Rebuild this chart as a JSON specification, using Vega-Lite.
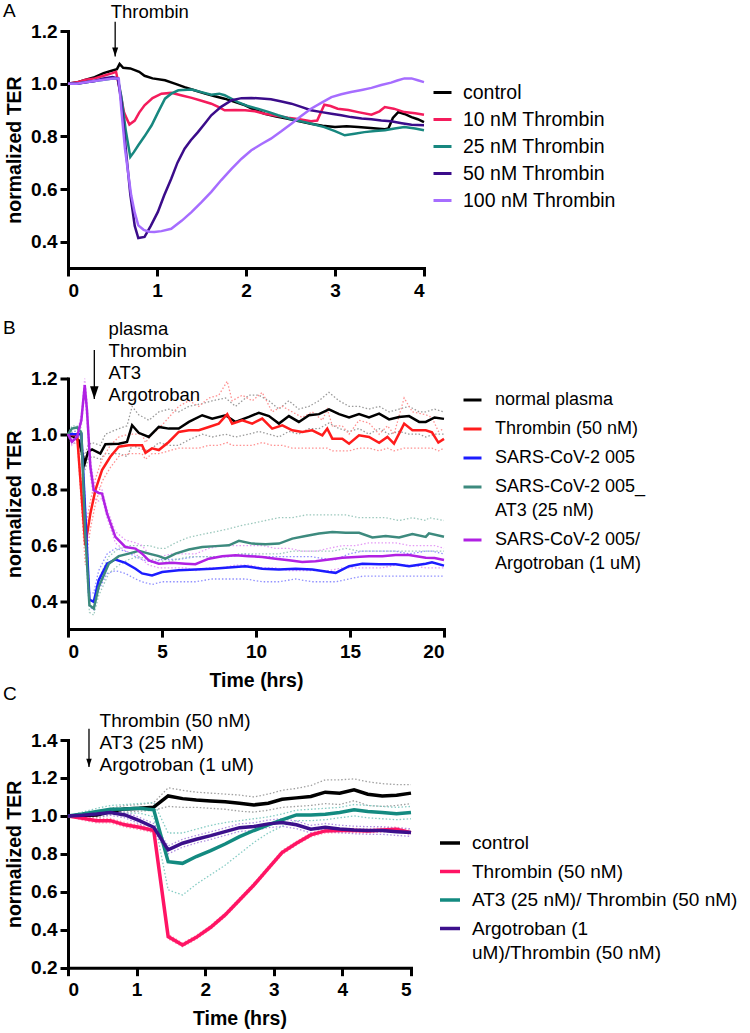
{
"$schema": "https://vega.github.io/schema/vega-lite/v6.json",
"padding": {"left": 3, "top": 2, "right": 0, "bottom": 0},
"background": "white",
"config": {
  "font": "Liberation Sans",
  "view": {"stroke": null},
  "axis": {"grid": false, "domainColor": "#000", "domainWidth": 3, "domainCap": "square", "tickColor": "#000", "tickWidth": 3, "tickSize": 8, "labelFont": "Liberation Sans", "labelFontSize": 19, "labelFontWeight": "bold", "labelColor": "#000", "labelPadding": 3, "labelOverlap": false, "labelLineHeight": 19, "titleFont": "Liberation Sans", "titleFontSize": 19.5, "titleFontWeight": "bold", "titleColor": "#000"},
  "axisX": {"labelPadding": 5, "titlePadding": 10},
  "axisY": {"titlePadding": 6},
  "legend": {"labelFont": "Liberation Sans", "labelColor": "#000", "symbolType": "stroke", "symbolStrokeWidth": 3, "labelLimit": 400, "symbolOpacity": 1},
  "title": {"font": "Liberation Sans", "fontWeight": "normal", "fontSize": 19, "color": "#000", "anchor": "start", "frame": "group"},
  "style": {"guide-label": {"lineHeight": 24}}
},
"spacing": 110.5,
"bounds": "flush",
"resolve": {"scale": {"color": "independent", "x": "independent", "y": "independent"}, "legend": {"color": "independent"}},
"datasets": {
  "A": [
    {"series":"control","t":0,"v":1.0},{"series":"control","t":0.1,"v":1.005},{"series":"control","t":0.2,"v":1.015},{"series":"control","t":0.3,"v":1.025},{"series":"control","t":0.4,"v":1.04},{"series":"control","t":0.5,"v":1.05},{"series":"control","t":0.55,"v":1.055},{"series":"control","t":0.58,"v":1.075},{"series":"control","t":0.62,"v":1.06},{"series":"control","t":0.7,"v":1.058},{"series":"control","t":0.8,"v":1.045},{"series":"control","t":0.86,"v":1.03},{"series":"control","t":0.95,"v":1.02},{"series":"control","t":1.09,"v":1.013},{"series":"control","t":1.2,"v":1.0},{"series":"control","t":1.31,"v":0.987},{"series":"control","t":1.42,"v":0.975},{"series":"control","t":1.54,"v":0.962},{"series":"control","t":1.65,"v":0.952},{"series":"control","t":1.76,"v":0.943},{"series":"control","t":1.88,"v":0.93},{"series":"control","t":1.99,"v":0.918},{"series":"control","t":2.1,"v":0.9},{"series":"control","t":2.21,"v":0.886},{"series":"control","t":2.34,"v":0.875},{"series":"control","t":2.47,"v":0.867},{"series":"control","t":2.6,"v":0.857},{"series":"control","t":2.73,"v":0.848},{"series":"control","t":2.86,"v":0.84},{"series":"control","t":3.0,"v":0.835},{"series":"control","t":3.13,"v":0.838},{"series":"control","t":3.26,"v":0.835},{"series":"control","t":3.4,"v":0.832},{"series":"control","t":3.56,"v":0.827},{"series":"control","t":3.6,"v":0.83},{"series":"control","t":3.65,"v":0.87},{"series":"control","t":3.71,"v":0.892},{"series":"control","t":3.78,"v":0.885},{"series":"control","t":3.86,"v":0.873},{"series":"control","t":3.93,"v":0.865},{"series":"control","t":4.0,"v":0.854},
    {"series":"10 nM Thrombin","t":0,"v":1.0},{"series":"10 nM Thrombin","t":0.1,"v":1.005},{"series":"10 nM Thrombin","t":0.2,"v":1.015},{"series":"10 nM Thrombin","t":0.3,"v":1.02},{"series":"10 nM Thrombin","t":0.4,"v":1.03},{"series":"10 nM Thrombin","t":0.5,"v":1.04},{"series":"10 nM Thrombin","t":0.54,"v":1.045},{"series":"10 nM Thrombin","t":0.58,"v":0.98},{"series":"10 nM Thrombin","t":0.63,"v":0.89},{"series":"10 nM Thrombin","t":0.69,"v":0.845},{"series":"10 nM Thrombin","t":0.75,"v":0.86},{"series":"10 nM Thrombin","t":0.8,"v":0.89},{"series":"10 nM Thrombin","t":0.86,"v":0.918},{"series":"10 nM Thrombin","t":0.95,"v":0.945},{"series":"10 nM Thrombin","t":1.05,"v":0.962},{"series":"10 nM Thrombin","t":1.16,"v":0.965},{"series":"10 nM Thrombin","t":1.28,"v":0.955},{"series":"10 nM Thrombin","t":1.39,"v":0.946},{"series":"10 nM Thrombin","t":1.5,"v":0.935},{"series":"10 nM Thrombin","t":1.61,"v":0.924},{"series":"10 nM Thrombin","t":1.7,"v":0.91},{"series":"10 nM Thrombin","t":1.76,"v":0.899},{"series":"10 nM Thrombin","t":1.88,"v":0.9},{"series":"10 nM Thrombin","t":1.99,"v":0.899},{"series":"10 nM Thrombin","t":2.1,"v":0.895},{"series":"10 nM Thrombin","t":2.21,"v":0.886},{"series":"10 nM Thrombin","t":2.34,"v":0.878},{"series":"10 nM Thrombin","t":2.47,"v":0.871},{"series":"10 nM Thrombin","t":2.6,"v":0.865},{"series":"10 nM Thrombin","t":2.73,"v":0.857},{"series":"10 nM Thrombin","t":2.8,"v":0.86},{"series":"10 nM Thrombin","t":2.88,"v":0.92},{"series":"10 nM Thrombin","t":2.95,"v":0.915},{"series":"10 nM Thrombin","t":3.03,"v":0.905},{"series":"10 nM Thrombin","t":3.15,"v":0.9},{"series":"10 nM Thrombin","t":3.26,"v":0.892},{"series":"10 nM Thrombin","t":3.41,"v":0.882},{"series":"10 nM Thrombin","t":3.5,"v":0.895},{"series":"10 nM Thrombin","t":3.56,"v":0.911},{"series":"10 nM Thrombin","t":3.66,"v":0.905},{"series":"10 nM Thrombin","t":3.78,"v":0.892},{"series":"10 nM Thrombin","t":3.9,"v":0.888},{"series":"10 nM Thrombin","t":4.0,"v":0.882},
    {"series":"25 nM Thrombin","t":0,"v":1.0},{"series":"25 nM Thrombin","t":0.1,"v":1.0},{"series":"25 nM Thrombin","t":0.2,"v":1.005},{"series":"25 nM Thrombin","t":0.3,"v":1.01},{"series":"25 nM Thrombin","t":0.4,"v":1.015},{"series":"25 nM Thrombin","t":0.5,"v":1.02},{"series":"25 nM Thrombin","t":0.56,"v":1.02},{"series":"25 nM Thrombin","t":0.6,"v":0.95},{"series":"25 nM Thrombin","t":0.65,"v":0.82},{"series":"25 nM Thrombin","t":0.7,"v":0.722},{"series":"25 nM Thrombin","t":0.74,"v":0.74},{"series":"25 nM Thrombin","t":0.79,"v":0.766},{"series":"25 nM Thrombin","t":0.86,"v":0.8},{"series":"25 nM Thrombin","t":0.94,"v":0.842},{"series":"25 nM Thrombin","t":1.01,"v":0.89},{"series":"25 nM Thrombin","t":1.09,"v":0.943},{"series":"25 nM Thrombin","t":1.16,"v":0.962},{"series":"25 nM Thrombin","t":1.24,"v":0.975},{"series":"25 nM Thrombin","t":1.39,"v":0.978},{"series":"25 nM Thrombin","t":1.5,"v":0.968},{"series":"25 nM Thrombin","t":1.61,"v":0.958},{"series":"25 nM Thrombin","t":1.7,"v":0.962},{"series":"25 nM Thrombin","t":1.76,"v":0.956},{"series":"25 nM Thrombin","t":1.85,"v":0.94},{"series":"25 nM Thrombin","t":1.91,"v":0.93},{"series":"25 nM Thrombin","t":2.02,"v":0.915},{"series":"25 nM Thrombin","t":2.13,"v":0.905},{"series":"25 nM Thrombin","t":2.25,"v":0.893},{"series":"25 nM Thrombin","t":2.36,"v":0.88},{"series":"25 nM Thrombin","t":2.5,"v":0.866},{"series":"25 nM Thrombin","t":2.66,"v":0.854},{"series":"25 nM Thrombin","t":2.77,"v":0.845},{"series":"25 nM Thrombin","t":2.88,"v":0.835},{"series":"25 nM Thrombin","t":3.0,"v":0.82},{"series":"25 nM Thrombin","t":3.11,"v":0.804},{"series":"25 nM Thrombin","t":3.22,"v":0.81},{"series":"25 nM Thrombin","t":3.33,"v":0.816},{"series":"25 nM Thrombin","t":3.45,"v":0.82},{"series":"25 nM Thrombin","t":3.56,"v":0.823},{"series":"25 nM Thrombin","t":3.67,"v":0.83},{"series":"25 nM Thrombin","t":3.78,"v":0.835},{"series":"25 nM Thrombin","t":3.9,"v":0.83},{"series":"25 nM Thrombin","t":4.0,"v":0.823},
    {"series":"50 nM Thrombin","t":0,"v":1.0},{"series":"50 nM Thrombin","t":0.1,"v":1.0},{"series":"50 nM Thrombin","t":0.2,"v":1.005},{"series":"50 nM Thrombin","t":0.3,"v":1.01},{"series":"50 nM Thrombin","t":0.4,"v":1.02},{"series":"50 nM Thrombin","t":0.5,"v":1.025},{"series":"50 nM Thrombin","t":0.56,"v":1.02},{"series":"50 nM Thrombin","t":0.6,"v":0.93},{"series":"50 nM Thrombin","t":0.65,"v":0.75},{"series":"50 nM Thrombin","t":0.7,"v":0.58},{"series":"50 nM Thrombin","t":0.75,"v":0.46},{"series":"50 nM Thrombin","t":0.79,"v":0.414},{"series":"50 nM Thrombin","t":0.86,"v":0.418},{"series":"50 nM Thrombin","t":0.93,"v":0.46},{"series":"50 nM Thrombin","t":1.01,"v":0.513},{"series":"50 nM Thrombin","t":1.08,"v":0.575},{"series":"50 nM Thrombin","t":1.16,"v":0.639},{"series":"50 nM Thrombin","t":1.23,"v":0.7},{"series":"50 nM Thrombin","t":1.31,"v":0.753},{"series":"50 nM Thrombin","t":1.38,"v":0.785},{"series":"50 nM Thrombin","t":1.46,"v":0.816},{"series":"50 nM Thrombin","t":1.54,"v":0.85},{"series":"50 nM Thrombin","t":1.61,"v":0.88},{"series":"50 nM Thrombin","t":1.72,"v":0.912},{"series":"50 nM Thrombin","t":1.84,"v":0.937},{"series":"50 nM Thrombin","t":1.95,"v":0.945},{"series":"50 nM Thrombin","t":2.06,"v":0.946},{"series":"50 nM Thrombin","t":2.17,"v":0.944},{"series":"50 nM Thrombin","t":2.28,"v":0.941},{"series":"50 nM Thrombin","t":2.4,"v":0.932},{"series":"50 nM Thrombin","t":2.51,"v":0.924},{"series":"50 nM Thrombin","t":2.62,"v":0.912},{"series":"50 nM Thrombin","t":2.73,"v":0.899},{"series":"50 nM Thrombin","t":2.85,"v":0.892},{"series":"50 nM Thrombin","t":2.96,"v":0.886},{"series":"50 nM Thrombin","t":3.07,"v":0.88},{"series":"50 nM Thrombin","t":3.18,"v":0.873},{"series":"50 nM Thrombin","t":3.3,"v":0.868},{"series":"50 nM Thrombin","t":3.41,"v":0.865},{"series":"50 nM Thrombin","t":3.52,"v":0.86},{"series":"50 nM Thrombin","t":3.63,"v":0.857},{"series":"50 nM Thrombin","t":3.75,"v":0.85},{"series":"50 nM Thrombin","t":3.86,"v":0.844},{"series":"50 nM Thrombin","t":4.0,"v":0.842},
    {"series":"100 nM Thrombin","t":0,"v":1.0},{"series":"100 nM Thrombin","t":0.1,"v":1.0},{"series":"100 nM Thrombin","t":0.2,"v":1.005},{"series":"100 nM Thrombin","t":0.3,"v":1.01},{"series":"100 nM Thrombin","t":0.4,"v":1.015},{"series":"100 nM Thrombin","t":0.5,"v":1.02},{"series":"100 nM Thrombin","t":0.57,"v":1.02},{"series":"100 nM Thrombin","t":0.6,"v":0.9},{"series":"100 nM Thrombin","t":0.64,"v":0.753},{"series":"100 nM Thrombin","t":0.68,"v":0.65},{"series":"100 nM Thrombin","t":0.71,"v":0.576},{"series":"100 nM Thrombin","t":0.75,"v":0.51},{"series":"100 nM Thrombin","t":0.79,"v":0.462},{"series":"100 nM Thrombin","t":0.85,"v":0.445},{"series":"100 nM Thrombin","t":0.91,"v":0.438},{"series":"100 nM Thrombin","t":0.97,"v":0.437},{"series":"100 nM Thrombin","t":1.05,"v":0.44},{"series":"100 nM Thrombin","t":1.16,"v":0.449},{"series":"100 nM Thrombin","t":1.28,"v":0.48},{"series":"100 nM Thrombin","t":1.39,"v":0.513},{"series":"100 nM Thrombin","t":1.5,"v":0.55},{"series":"100 nM Thrombin","t":1.61,"v":0.589},{"series":"100 nM Thrombin","t":1.72,"v":0.633},{"series":"100 nM Thrombin","t":1.84,"v":0.677},{"series":"100 nM Thrombin","t":1.95,"v":0.715},{"series":"100 nM Thrombin","t":2.06,"v":0.747},{"series":"100 nM Thrombin","t":2.17,"v":0.77},{"series":"100 nM Thrombin","t":2.28,"v":0.791},{"series":"100 nM Thrombin","t":2.4,"v":0.82},{"series":"100 nM Thrombin","t":2.51,"v":0.848},{"series":"100 nM Thrombin","t":2.62,"v":0.877},{"series":"100 nM Thrombin","t":2.73,"v":0.905},{"series":"100 nM Thrombin","t":2.85,"v":0.928},{"series":"100 nM Thrombin","t":2.96,"v":0.949},{"series":"100 nM Thrombin","t":3.07,"v":0.96},{"series":"100 nM Thrombin","t":3.18,"v":0.968},{"series":"100 nM Thrombin","t":3.3,"v":0.976},{"series":"100 nM Thrombin","t":3.41,"v":0.984},{"series":"100 nM Thrombin","t":3.52,"v":0.995},{"series":"100 nM Thrombin","t":3.63,"v":1.004},{"series":"100 nM Thrombin","t":3.7,"v":1.012},{"series":"100 nM Thrombin","t":3.78,"v":1.02},{"series":"100 nM Thrombin","t":3.86,"v":1.02},{"series":"100 nM Thrombin","t":3.93,"v":1.013},{"series":"100 nM Thrombin","t":4.0,"v":1.006}
  ],
  "B": [
    {"series":"normal plasma","t":0,"v":1.0,"lo":1.0,"hi":1.0},{"series":"normal plasma","t":0.3,"v":0.99,"lo":0.97,"hi":1.0},{"series":"normal plasma","t":0.57,"v":0.978,"lo":0.96,"hi":0.99},{"series":"normal plasma","t":0.89,"v":0.895,"lo":0.87,"hi":0.92},{"series":"normal plasma","t":1.07,"v":0.937,"lo":0.91,"hi":0.96},{"series":"normal plasma","t":1.28,"v":0.945,"lo":0.92,"hi":0.97},{"series":"normal plasma","t":1.72,"v":0.93,"lo":0.91,"hi":0.96},{"series":"normal plasma","t":1.99,"v":0.964,"lo":0.93,"hi":1.0},{"series":"normal plasma","t":2.7,"v":0.966,"lo":0.93,"hi":1.02},{"series":"normal plasma","t":3.14,"v":0.972,"lo":0.92,"hi":1.03},{"series":"normal plasma","t":3.41,"v":1.032,"lo":0.96,"hi":1.1},{"series":"normal plasma","t":3.76,"v":1.005,"lo":0.95,"hi":1.07},{"series":"normal plasma","t":4.3,"v":0.99,"lo":0.94,"hi":1.05},{"series":"normal plasma","t":4.83,"v":1.026,"lo":0.97,"hi":1.08},{"series":"normal plasma","t":5.36,"v":1.02,"lo":0.96,"hi":1.09},{"series":"normal plasma","t":5.89,"v":1.02,"lo":0.96,"hi":1.08},{"series":"normal plasma","t":6.43,"v":1.044,"lo":0.98,"hi":1.1},{"series":"normal plasma","t":7.14,"v":1.068,"lo":1.0,"hi":1.11},{"series":"normal plasma","t":7.67,"v":1.056,"lo":0.99,"hi":1.12},{"series":"normal plasma","t":8.38,"v":1.068,"lo":1.0,"hi":1.13},{"series":"normal plasma","t":8.91,"v":1.044,"lo":0.99,"hi":1.1},{"series":"normal plasma","t":9.62,"v":1.062,"lo":1.0,"hi":1.14},{"series":"normal plasma","t":10.15,"v":1.077,"lo":1.01,"hi":1.14},{"series":"normal plasma","t":10.69,"v":1.065,"lo":1.0,"hi":1.12},{"series":"normal plasma","t":11.22,"v":1.038,"lo":0.99,"hi":1.09},{"series":"normal plasma","t":11.75,"v":1.065,"lo":1.01,"hi":1.12},{"series":"normal plasma","t":12.28,"v":1.044,"lo":1.0,"hi":1.09},{"series":"normal plasma","t":12.82,"v":1.068,"lo":1.02,"hi":1.1},{"series":"normal plasma","t":13.35,"v":1.072,"lo":1.02,"hi":1.12},{"series":"normal plasma","t":13.88,"v":1.089,"lo":1.04,"hi":1.15},{"series":"normal plasma","t":14.42,"v":1.072,"lo":1.02,"hi":1.12},{"series":"normal plasma","t":14.95,"v":1.06,"lo":1.01,"hi":1.1},{"series":"normal plasma","t":15.48,"v":1.072,"lo":1.02,"hi":1.1},{"series":"normal plasma","t":16.01,"v":1.06,"lo":1.0,"hi":1.09},{"series":"normal plasma","t":16.55,"v":1.074,"lo":1.02,"hi":1.1},{"series":"normal plasma","t":17.08,"v":1.053,"lo":1.0,"hi":1.08},{"series":"normal plasma","t":17.61,"v":1.062,"lo":1.01,"hi":1.09},{"series":"normal plasma","t":18.14,"v":1.065,"lo":1.0,"hi":1.1},{"series":"normal plasma","t":18.68,"v":1.044,"lo":1.0,"hi":1.08},{"series":"normal plasma","t":19.03,"v":1.044,"lo":0.99,"hi":1.08},{"series":"normal plasma","t":19.5,"v":1.06,"lo":1.0,"hi":1.09},{"series":"normal plasma","t":20.0,"v":1.055,"lo":1.0,"hi":1.08},
    {"series":"Thrombin (50 nM)","t":0,"v":1.0,"lo":1.0,"hi":1.0},{"series":"Thrombin (50 nM)","t":0.3,"v":0.996,"lo":0.98,"hi":1.01},{"series":"Thrombin (50 nM)","t":0.48,"v":1.0,"lo":0.99,"hi":1.01},{"series":"Thrombin (50 nM)","t":0.92,"v":0.601,"lo":0.53,"hi":0.66},{"series":"Thrombin (50 nM)","t":1.19,"v":0.715,"lo":0.66,"hi":0.76},{"series":"Thrombin (50 nM)","t":1.46,"v":0.8,"lo":0.75,"hi":0.84},{"series":"Thrombin (50 nM)","t":1.81,"v":0.871,"lo":0.83,"hi":0.91},{"series":"Thrombin (50 nM)","t":2.25,"v":0.919,"lo":0.88,"hi":0.96},{"series":"Thrombin (50 nM)","t":2.7,"v":0.955,"lo":0.92,"hi":0.99},{"series":"Thrombin (50 nM)","t":3.23,"v":0.96,"lo":0.93,"hi":1.0},{"series":"Thrombin (50 nM)","t":3.94,"v":0.96,"lo":0.93,"hi":1.0},{"series":"Thrombin (50 nM)","t":4.12,"v":0.933,"lo":0.91,"hi":0.97},{"series":"Thrombin (50 nM)","t":4.47,"v":0.949,"lo":0.93,"hi":1.0},{"series":"Thrombin (50 nM)","t":4.83,"v":0.943,"lo":0.93,"hi":1.02},{"series":"Thrombin (50 nM)","t":5.36,"v":0.972,"lo":0.94,"hi":1.06},{"series":"Thrombin (50 nM)","t":5.89,"v":1.008,"lo":0.95,"hi":1.1},{"series":"Thrombin (50 nM)","t":6.43,"v":1.014,"lo":0.95,"hi":1.12},{"series":"Thrombin (50 nM)","t":6.96,"v":1.014,"lo":0.95,"hi":1.1},{"series":"Thrombin (50 nM)","t":7.49,"v":1.026,"lo":0.96,"hi":1.13},{"series":"Thrombin (50 nM)","t":8.02,"v":1.038,"lo":0.96,"hi":1.14},{"series":"Thrombin (50 nM)","t":8.47,"v":1.072,"lo":0.97,"hi":1.19},{"series":"Thrombin (50 nM)","t":8.73,"v":1.038,"lo":0.96,"hi":1.12},{"series":"Thrombin (50 nM)","t":9.27,"v":1.05,"lo":0.96,"hi":1.14},{"series":"Thrombin (50 nM)","t":9.8,"v":1.038,"lo":0.96,"hi":1.12},{"series":"Thrombin (50 nM)","t":10.33,"v":1.056,"lo":0.97,"hi":1.15},{"series":"Thrombin (50 nM)","t":10.86,"v":1.02,"lo":0.96,"hi":1.08},{"series":"Thrombin (50 nM)","t":11.4,"v":1.032,"lo":0.96,"hi":1.1},{"series":"Thrombin (50 nM)","t":11.93,"v":1.014,"lo":0.95,"hi":1.08},{"series":"Thrombin (50 nM)","t":12.46,"v":1.008,"lo":0.95,"hi":1.06},{"series":"Thrombin (50 nM)","t":12.99,"v":1.014,"lo":0.95,"hi":1.08},{"series":"Thrombin (50 nM)","t":13.53,"v":0.996,"lo":0.95,"hi":1.05},{"series":"Thrombin (50 nM)","t":13.79,"v":1.02,"lo":0.95,"hi":1.09},{"series":"Thrombin (50 nM)","t":14.06,"v":0.984,"lo":0.94,"hi":1.03},{"series":"Thrombin (50 nM)","t":14.59,"v":0.984,"lo":0.94,"hi":1.03},{"series":"Thrombin (50 nM)","t":14.95,"v":0.966,"lo":0.94,"hi":1.0},{"series":"Thrombin (50 nM)","t":15.48,"v":0.996,"lo":0.95,"hi":1.05},{"series":"Thrombin (50 nM)","t":16.01,"v":0.99,"lo":0.95,"hi":1.04},{"series":"Thrombin (50 nM)","t":16.55,"v":0.969,"lo":0.94,"hi":1.0},{"series":"Thrombin (50 nM)","t":16.99,"v":0.99,"lo":0.95,"hi":1.03},{"series":"Thrombin (50 nM)","t":17.34,"v":0.966,"lo":0.94,"hi":1.0},{"series":"Thrombin (50 nM)","t":17.88,"v":1.038,"lo":0.95,"hi":1.13},{"series":"Thrombin (50 nM)","t":18.32,"v":1.014,"lo":0.95,"hi":1.08},{"series":"Thrombin (50 nM)","t":19.03,"v":1.014,"lo":0.95,"hi":1.07},{"series":"Thrombin (50 nM)","t":19.36,"v":1.007,"lo":0.95,"hi":1.06},{"series":"Thrombin (50 nM)","t":19.7,"v":0.97,"lo":0.94,"hi":1.01},{"series":"Thrombin (50 nM)","t":20.0,"v":0.983,"lo":0.95,"hi":1.02},
    {"series":"SARS-CoV-2 005","t":0,"v":1.0,"lo":1.0,"hi":1.0},{"series":"SARS-CoV-2 005","t":0.39,"v":1.0,"lo":0.99,"hi":1.01},{"series":"SARS-CoV-2 005","t":0.71,"v":1.0,"lo":0.99,"hi":1.01},{"series":"SARS-CoV-2 005","t":0.92,"v":0.715,"lo":0.68,"hi":0.75},{"series":"SARS-CoV-2 005","t":1.14,"v":0.406,"lo":0.38,"hi":0.43},{"series":"SARS-CoV-2 005","t":1.37,"v":0.398,"lo":0.37,"hi":0.43},{"series":"SARS-CoV-2 005","t":1.63,"v":0.475,"lo":0.44,"hi":0.51},{"series":"SARS-CoV-2 005","t":2.08,"v":0.535,"lo":0.5,"hi":0.57},{"series":"SARS-CoV-2 005","t":2.52,"v":0.55,"lo":0.51,"hi":0.59},{"series":"SARS-CoV-2 005","t":3.05,"v":0.538,"lo":0.5,"hi":0.58},{"series":"SARS-CoV-2 005","t":3.59,"v":0.517,"lo":0.48,"hi":0.56},{"series":"SARS-CoV-2 005","t":3.94,"v":0.5,"lo":0.47,"hi":0.55},{"series":"SARS-CoV-2 005","t":4.47,"v":0.493,"lo":0.46,"hi":0.54},{"series":"SARS-CoV-2 005","t":5.01,"v":0.505,"lo":0.47,"hi":0.55},{"series":"SARS-CoV-2 005","t":5.89,"v":0.511,"lo":0.47,"hi":0.55},{"series":"SARS-CoV-2 005","t":6.78,"v":0.514,"lo":0.47,"hi":0.56},{"series":"SARS-CoV-2 005","t":7.67,"v":0.517,"lo":0.48,"hi":0.56},{"series":"SARS-CoV-2 005","t":8.56,"v":0.521,"lo":0.48,"hi":0.56},{"series":"SARS-CoV-2 005","t":9.44,"v":0.526,"lo":0.48,"hi":0.57},{"series":"SARS-CoV-2 005","t":10.33,"v":0.517,"lo":0.47,"hi":0.56},{"series":"SARS-CoV-2 005","t":11.22,"v":0.514,"lo":0.47,"hi":0.56},{"series":"SARS-CoV-2 005","t":12.11,"v":0.517,"lo":0.48,"hi":0.56},{"series":"SARS-CoV-2 005","t":12.99,"v":0.514,"lo":0.47,"hi":0.56},{"series":"SARS-CoV-2 005","t":13.88,"v":0.505,"lo":0.47,"hi":0.55},{"series":"SARS-CoV-2 005","t":14.24,"v":0.502,"lo":0.47,"hi":0.55},{"series":"SARS-CoV-2 005","t":14.95,"v":0.526,"lo":0.48,"hi":0.57},{"series":"SARS-CoV-2 005","t":15.66,"v":0.535,"lo":0.49,"hi":0.58},{"series":"SARS-CoV-2 005","t":16.55,"v":0.533,"lo":0.49,"hi":0.58},{"series":"SARS-CoV-2 005","t":17.43,"v":0.533,"lo":0.49,"hi":0.58},{"series":"SARS-CoV-2 005","t":18.14,"v":0.526,"lo":0.49,"hi":0.57},{"series":"SARS-CoV-2 005","t":19.03,"v":0.535,"lo":0.49,"hi":0.58},{"series":"SARS-CoV-2 005","t":19.36,"v":0.54,"lo":0.49,"hi":0.58},{"series":"SARS-CoV-2 005","t":20.0,"v":0.528,"lo":0.49,"hi":0.57},
    {"series":"SARS-CoV-2 005_|AT3 (25 nM)","t":0,"v":1.0,"lo":1.0,"hi":1.0},{"series":"SARS-CoV-2 005_|AT3 (25 nM)","t":0.21,"v":1.02,"lo":1.01,"hi":1.03},{"series":"SARS-CoV-2 005_|AT3 (25 nM)","t":0.48,"v":1.024,"lo":1.01,"hi":1.03},{"series":"SARS-CoV-2 005_|AT3 (25 nM)","t":0.71,"v":1.005,"lo":0.99,"hi":1.02},{"series":"SARS-CoV-2 005_|AT3 (25 nM)","t":0.92,"v":0.643,"lo":0.6,"hi":0.68},{"series":"SARS-CoV-2 005_|AT3 (25 nM)","t":1.14,"v":0.386,"lo":0.36,"hi":0.41},{"series":"SARS-CoV-2 005_|AT3 (25 nM)","t":1.37,"v":0.374,"lo":0.35,"hi":0.4},{"series":"SARS-CoV-2 005_|AT3 (25 nM)","t":1.63,"v":0.451,"lo":0.42,"hi":0.48},{"series":"SARS-CoV-2 005_|AT3 (25 nM)","t":2.17,"v":0.535,"lo":0.5,"hi":0.56},{"series":"SARS-CoV-2 005_|AT3 (25 nM)","t":2.7,"v":0.562,"lo":0.53,"hi":0.59},{"series":"SARS-CoV-2 005_|AT3 (25 nM)","t":3.23,"v":0.571,"lo":0.55,"hi":0.6},{"series":"SARS-CoV-2 005_|AT3 (25 nM)","t":3.76,"v":0.581,"lo":0.56,"hi":0.6},{"series":"SARS-CoV-2 005_|AT3 (25 nM)","t":4.3,"v":0.571,"lo":0.55,"hi":0.6},{"series":"SARS-CoV-2 005_|AT3 (25 nM)","t":4.83,"v":0.562,"lo":0.55,"hi":0.59},{"series":"SARS-CoV-2 005_|AT3 (25 nM)","t":5.18,"v":0.553,"lo":0.54,"hi":0.59},{"series":"SARS-CoV-2 005_|AT3 (25 nM)","t":5.72,"v":0.571,"lo":0.55,"hi":0.61},{"series":"SARS-CoV-2 005_|AT3 (25 nM)","t":6.43,"v":0.586,"lo":0.56,"hi":0.63},{"series":"SARS-CoV-2 005_|AT3 (25 nM)","t":7.14,"v":0.595,"lo":0.56,"hi":0.64},{"series":"SARS-CoV-2 005_|AT3 (25 nM)","t":7.85,"v":0.598,"lo":0.56,"hi":0.65},{"series":"SARS-CoV-2 005_|AT3 (25 nM)","t":8.56,"v":0.601,"lo":0.56,"hi":0.66},{"series":"SARS-CoV-2 005_|AT3 (25 nM)","t":9.09,"v":0.617,"lo":0.57,"hi":0.67},{"series":"SARS-CoV-2 005_|AT3 (25 nM)","t":9.8,"v":0.607,"lo":0.57,"hi":0.68},{"series":"SARS-CoV-2 005_|AT3 (25 nM)","t":10.51,"v":0.605,"lo":0.57,"hi":0.69},{"series":"SARS-CoV-2 005_|AT3 (25 nM)","t":11.22,"v":0.607,"lo":0.57,"hi":0.7},{"series":"SARS-CoV-2 005_|AT3 (25 nM)","t":11.93,"v":0.625,"lo":0.58,"hi":0.7},{"series":"SARS-CoV-2 005_|AT3 (25 nM)","t":12.64,"v":0.634,"lo":0.58,"hi":0.71},{"series":"SARS-CoV-2 005_|AT3 (25 nM)","t":13.35,"v":0.643,"lo":0.58,"hi":0.71},{"series":"SARS-CoV-2 005_|AT3 (25 nM)","t":14.06,"v":0.649,"lo":0.58,"hi":0.71},{"series":"SARS-CoV-2 005_|AT3 (25 nM)","t":14.77,"v":0.646,"lo":0.59,"hi":0.71},{"series":"SARS-CoV-2 005_|AT3 (25 nM)","t":15.48,"v":0.646,"lo":0.58,"hi":0.7},{"series":"SARS-CoV-2 005_|AT3 (25 nM)","t":16.19,"v":0.629,"lo":0.58,"hi":0.7},{"series":"SARS-CoV-2 005_|AT3 (25 nM)","t":16.9,"v":0.634,"lo":0.58,"hi":0.7},{"series":"SARS-CoV-2 005_|AT3 (25 nM)","t":17.61,"v":0.629,"lo":0.58,"hi":0.69},{"series":"SARS-CoV-2 005_|AT3 (25 nM)","t":18.32,"v":0.641,"lo":0.58,"hi":0.7},{"series":"SARS-CoV-2 005_|AT3 (25 nM)","t":19.03,"v":0.631,"lo":0.58,"hi":0.69},{"series":"SARS-CoV-2 005_|AT3 (25 nM)","t":19.2,"v":0.644,"lo":0.58,"hi":0.7},{"series":"SARS-CoV-2 005_|AT3 (25 nM)","t":20.0,"v":0.632,"lo":0.58,"hi":0.69},
    {"series":"SARS-CoV-2 005/|Argotroban (1 uM)","t":0,"v":1.0,"lo":1.0,"hi":1.0},{"series":"SARS-CoV-2 005/|Argotroban (1 uM)","t":0.21,"v":0.972,"lo":0.96,"hi":0.98},{"series":"SARS-CoV-2 005/|Argotroban (1 uM)","t":0.48,"v":0.99,"lo":0.98,"hi":1.0},{"series":"SARS-CoV-2 005/|Argotroban (1 uM)","t":0.71,"v":1.05,"lo":1.03,"hi":1.07},{"series":"SARS-CoV-2 005/|Argotroban (1 uM)","t":0.89,"v":1.176,"lo":1.15,"hi":1.2},{"series":"SARS-CoV-2 005/|Argotroban (1 uM)","t":1.01,"v":1.086,"lo":1.05,"hi":1.12},{"series":"SARS-CoV-2 005/|Argotroban (1 uM)","t":1.19,"v":0.883,"lo":0.85,"hi":0.91},{"series":"SARS-CoV-2 005/|Argotroban (1 uM)","t":1.37,"v":0.799,"lo":0.77,"hi":0.83},{"series":"SARS-CoV-2 005/|Argotroban (1 uM)","t":1.63,"v":0.789,"lo":0.76,"hi":0.81},{"series":"SARS-CoV-2 005/|Argotroban (1 uM)","t":1.81,"v":0.787,"lo":0.77,"hi":0.8},{"series":"SARS-CoV-2 005/|Argotroban (1 uM)","t":2.08,"v":0.715,"lo":0.7,"hi":0.73},{"series":"SARS-CoV-2 005/|Argotroban (1 uM)","t":2.52,"v":0.631,"lo":0.61,"hi":0.65},{"series":"SARS-CoV-2 005/|Argotroban (1 uM)","t":3.05,"v":0.595,"lo":0.58,"hi":0.62},{"series":"SARS-CoV-2 005/|Argotroban (1 uM)","t":3.59,"v":0.589,"lo":0.57,"hi":0.61},{"series":"SARS-CoV-2 005/|Argotroban (1 uM)","t":3.94,"v":0.571,"lo":0.55,"hi":0.6},{"series":"SARS-CoV-2 005/|Argotroban (1 uM)","t":4.3,"v":0.547,"lo":0.53,"hi":0.57},{"series":"SARS-CoV-2 005/|Argotroban (1 uM)","t":4.83,"v":0.535,"lo":0.52,"hi":0.56},{"series":"SARS-CoV-2 005/|Argotroban (1 uM)","t":5.54,"v":0.538,"lo":0.52,"hi":0.57},{"series":"SARS-CoV-2 005/|Argotroban (1 uM)","t":6.25,"v":0.535,"lo":0.52,"hi":0.57},{"series":"SARS-CoV-2 005/|Argotroban (1 uM)","t":6.78,"v":0.533,"lo":0.51,"hi":0.57},{"series":"SARS-CoV-2 005/|Argotroban (1 uM)","t":7.49,"v":0.553,"lo":0.52,"hi":0.59},{"series":"SARS-CoV-2 005/|Argotroban (1 uM)","t":8.2,"v":0.562,"lo":0.52,"hi":0.6},{"series":"SARS-CoV-2 005/|Argotroban (1 uM)","t":8.91,"v":0.565,"lo":0.53,"hi":0.6},{"series":"SARS-CoV-2 005/|Argotroban (1 uM)","t":9.62,"v":0.562,"lo":0.53,"hi":0.6},{"series":"SARS-CoV-2 005/|Argotroban (1 uM)","t":10.33,"v":0.559,"lo":0.52,"hi":0.6},{"series":"SARS-CoV-2 005/|Argotroban (1 uM)","t":11.04,"v":0.553,"lo":0.52,"hi":0.59},{"series":"SARS-CoV-2 005/|Argotroban (1 uM)","t":11.75,"v":0.547,"lo":0.51,"hi":0.59},{"series":"SARS-CoV-2 005/|Argotroban (1 uM)","t":12.46,"v":0.541,"lo":0.51,"hi":0.58},{"series":"SARS-CoV-2 005/|Argotroban (1 uM)","t":13.17,"v":0.544,"lo":0.51,"hi":0.58},{"series":"SARS-CoV-2 005/|Argotroban (1 uM)","t":13.88,"v":0.55,"lo":0.51,"hi":0.59},{"series":"SARS-CoV-2 005/|Argotroban (1 uM)","t":14.59,"v":0.556,"lo":0.52,"hi":0.6},{"series":"SARS-CoV-2 005/|Argotroban (1 uM)","t":15.31,"v":0.559,"lo":0.52,"hi":0.6},{"series":"SARS-CoV-2 005/|Argotroban (1 uM)","t":16.01,"v":0.562,"lo":0.52,"hi":0.61},{"series":"SARS-CoV-2 005/|Argotroban (1 uM)","t":16.72,"v":0.562,"lo":0.52,"hi":0.61},{"series":"SARS-CoV-2 005/|Argotroban (1 uM)","t":17.43,"v":0.566,"lo":0.53,"hi":0.61},{"series":"SARS-CoV-2 005/|Argotroban (1 uM)","t":18.14,"v":0.566,"lo":0.53,"hi":0.6},{"series":"SARS-CoV-2 005/|Argotroban (1 uM)","t":19.03,"v":0.556,"lo":0.52,"hi":0.6},{"series":"SARS-CoV-2 005/|Argotroban (1 uM)","t":19.5,"v":0.555,"lo":0.52,"hi":0.6},{"series":"SARS-CoV-2 005/|Argotroban (1 uM)","t":20.0,"v":0.548,"lo":0.52,"hi":0.59}
  ],
  "C": [
    {"series":"control","t":0,"v":1.0,"lo":1.0,"hi":1.0},{"series":"control","t":0.21,"v":1.002,"lo":0.995,"hi":1.01},{"series":"control","t":0.42,"v":1.005,"lo":0.99,"hi":1.02},{"series":"control","t":0.62,"v":1.023,"lo":1.005,"hi":1.04},{"series":"control","t":0.83,"v":1.037,"lo":1.02,"hi":1.055},{"series":"control","t":1.04,"v":1.04,"lo":1.025,"hi":1.06},{"series":"control","t":1.25,"v":1.046,"lo":1.03,"hi":1.07},{"series":"control","t":1.46,"v":1.105,"lo":1.05,"hi":1.148},{"series":"control","t":1.67,"v":1.091,"lo":1.045,"hi":1.135},{"series":"control","t":1.87,"v":1.084,"lo":1.045,"hi":1.125},{"series":"control","t":2.08,"v":1.079,"lo":1.04,"hi":1.12},{"series":"control","t":2.29,"v":1.074,"lo":1.035,"hi":1.115},{"series":"control","t":2.5,"v":1.067,"lo":1.025,"hi":1.11},{"series":"control","t":2.71,"v":1.058,"lo":1.02,"hi":1.1},{"series":"control","t":2.92,"v":1.067,"lo":1.03,"hi":1.115},{"series":"control","t":3.12,"v":1.088,"lo":1.045,"hi":1.135},{"series":"control","t":3.33,"v":1.095,"lo":1.05,"hi":1.145},{"series":"control","t":3.54,"v":1.102,"lo":1.055,"hi":1.16},{"series":"control","t":3.75,"v":1.125,"lo":1.065,"hi":1.19},{"series":"control","t":3.96,"v":1.12,"lo":1.06,"hi":1.19},{"series":"control","t":4.17,"v":1.137,"lo":1.08,"hi":1.195},{"series":"control","t":4.37,"v":1.114,"lo":1.055,"hi":1.18},{"series":"control","t":4.58,"v":1.105,"lo":1.05,"hi":1.17},{"series":"control","t":4.79,"v":1.109,"lo":1.055,"hi":1.165},{"series":"control","t":5.0,"v":1.12,"lo":1.065,"hi":1.165},
    {"series":"Thrombin (50 nM)","t":0,"v":1.0,"lo":1.0,"hi":1.0},{"series":"Thrombin (50 nM)","t":0.21,"v":0.988,"lo":0.978,"hi":0.998},{"series":"Thrombin (50 nM)","t":0.42,"v":0.975,"lo":0.963,"hi":0.987},{"series":"Thrombin (50 nM)","t":0.62,"v":0.975,"lo":0.963,"hi":0.987},{"series":"Thrombin (50 nM)","t":0.83,"v":0.953,"lo":0.941,"hi":0.965},{"series":"Thrombin (50 nM)","t":1.04,"v":0.94,"lo":0.928,"hi":0.952},{"series":"Thrombin (50 nM)","t":1.25,"v":0.923,"lo":0.911,"hi":0.935},{"series":"Thrombin (50 nM)","t":1.46,"v":0.364,"lo":0.352,"hi":0.376},{"series":"Thrombin (50 nM)","t":1.67,"v":0.32,"lo":0.31,"hi":0.33},{"series":"Thrombin (50 nM)","t":1.87,"v":0.36,"lo":0.35,"hi":0.37},{"series":"Thrombin (50 nM)","t":2.08,"v":0.413,"lo":0.403,"hi":0.423},{"series":"Thrombin (50 nM)","t":2.29,"v":0.478,"lo":0.468,"hi":0.488},{"series":"Thrombin (50 nM)","t":2.5,"v":0.557,"lo":0.547,"hi":0.567},{"series":"Thrombin (50 nM)","t":2.71,"v":0.636,"lo":0.626,"hi":0.646},{"series":"Thrombin (50 nM)","t":2.92,"v":0.724,"lo":0.714,"hi":0.734},{"series":"Thrombin (50 nM)","t":3.12,"v":0.807,"lo":0.797,"hi":0.817},{"series":"Thrombin (50 nM)","t":3.33,"v":0.856,"lo":0.846,"hi":0.866},{"series":"Thrombin (50 nM)","t":3.54,"v":0.9,"lo":0.89,"hi":0.91},{"series":"Thrombin (50 nM)","t":3.75,"v":0.921,"lo":0.91,"hi":0.932},{"series":"Thrombin (50 nM)","t":3.96,"v":0.923,"lo":0.912,"hi":0.934},{"series":"Thrombin (50 nM)","t":4.17,"v":0.923,"lo":0.912,"hi":0.934},{"series":"Thrombin (50 nM)","t":4.37,"v":0.921,"lo":0.91,"hi":0.932},{"series":"Thrombin (50 nM)","t":4.58,"v":0.926,"lo":0.915,"hi":0.937},{"series":"Thrombin (50 nM)","t":4.79,"v":0.93,"lo":0.919,"hi":0.941},{"series":"Thrombin (50 nM)","t":5.0,"v":0.912,"lo":0.901,"hi":0.923},
    {"series":"AT3 (25 nM)/ Thrombin (50 nM)","t":0,"v":1.0,"lo":1.0,"hi":1.0},{"series":"AT3 (25 nM)/ Thrombin (50 nM)","t":0.21,"v":1.01,"lo":1.0,"hi":1.02},{"series":"AT3 (25 nM)/ Thrombin (50 nM)","t":0.42,"v":1.023,"lo":1.005,"hi":1.04},{"series":"AT3 (25 nM)/ Thrombin (50 nM)","t":0.62,"v":1.035,"lo":1.015,"hi":1.055},{"series":"AT3 (25 nM)/ Thrombin (50 nM)","t":0.83,"v":1.037,"lo":1.015,"hi":1.06},{"series":"AT3 (25 nM)/ Thrombin (50 nM)","t":1.04,"v":1.04,"lo":1.015,"hi":1.065},{"series":"AT3 (25 nM)/ Thrombin (50 nM)","t":1.25,"v":1.032,"lo":0.995,"hi":1.07},{"series":"AT3 (25 nM)/ Thrombin (50 nM)","t":1.46,"v":0.759,"lo":0.61,"hi":0.91},{"series":"AT3 (25 nM)/ Thrombin (50 nM)","t":1.67,"v":0.75,"lo":0.583,"hi":0.91},{"series":"AT3 (25 nM)/ Thrombin (50 nM)","t":1.87,"v":0.786,"lo":0.64,"hi":0.93},{"series":"AT3 (25 nM)/ Thrombin (50 nM)","t":2.08,"v":0.817,"lo":0.69,"hi":0.95},{"series":"AT3 (25 nM)/ Thrombin (50 nM)","t":2.29,"v":0.852,"lo":0.74,"hi":0.965},{"series":"AT3 (25 nM)/ Thrombin (50 nM)","t":2.5,"v":0.891,"lo":0.8,"hi":0.975},{"series":"AT3 (25 nM)/ Thrombin (50 nM)","t":2.71,"v":0.923,"lo":0.86,"hi":0.985},{"series":"AT3 (25 nM)/ Thrombin (50 nM)","t":2.92,"v":0.953,"lo":0.91,"hi":0.995},{"series":"AT3 (25 nM)/ Thrombin (50 nM)","t":3.12,"v":0.979,"lo":0.945,"hi":1.01},{"series":"AT3 (25 nM)/ Thrombin (50 nM)","t":3.33,"v":1.005,"lo":0.975,"hi":1.03},{"series":"AT3 (25 nM)/ Thrombin (50 nM)","t":3.54,"v":1.005,"lo":0.975,"hi":1.035},{"series":"AT3 (25 nM)/ Thrombin (50 nM)","t":3.75,"v":1.009,"lo":0.98,"hi":1.04},{"series":"AT3 (25 nM)/ Thrombin (50 nM)","t":3.96,"v":1.018,"lo":0.99,"hi":1.045},{"series":"AT3 (25 nM)/ Thrombin (50 nM)","t":4.17,"v":1.032,"lo":1.0,"hi":1.06},{"series":"AT3 (25 nM)/ Thrombin (50 nM)","t":4.37,"v":1.023,"lo":0.99,"hi":1.055},{"series":"AT3 (25 nM)/ Thrombin (50 nM)","t":4.58,"v":1.018,"lo":0.985,"hi":1.05},{"series":"AT3 (25 nM)/ Thrombin (50 nM)","t":4.79,"v":1.011,"lo":0.98,"hi":1.045},{"series":"AT3 (25 nM)/ Thrombin (50 nM)","t":5.0,"v":1.018,"lo":0.985,"hi":1.05},
    {"series":"Argotroban (1|uM)/Thrombin (50 nM)","t":0,"v":1.0,"lo":1.0,"hi":1.0},{"series":"Argotroban (1|uM)/Thrombin (50 nM)","t":0.21,"v":1.004,"lo":0.995,"hi":1.012},{"series":"Argotroban (1|uM)/Thrombin (50 nM)","t":0.42,"v":1.01,"lo":0.998,"hi":1.022},{"series":"Argotroban (1|uM)/Thrombin (50 nM)","t":0.62,"v":1.018,"lo":1.003,"hi":1.033},{"series":"Argotroban (1|uM)/Thrombin (50 nM)","t":0.83,"v":1.005,"lo":0.99,"hi":1.02},{"series":"Argotroban (1|uM)/Thrombin (50 nM)","t":1.04,"v":0.975,"lo":0.958,"hi":0.992},{"series":"Argotroban (1|uM)/Thrombin (50 nM)","t":1.25,"v":0.94,"lo":0.92,"hi":0.96},{"series":"Argotroban (1|uM)/Thrombin (50 nM)","t":1.46,"v":0.821,"lo":0.8,"hi":0.842},{"series":"Argotroban (1|uM)/Thrombin (50 nM)","t":1.67,"v":0.856,"lo":0.835,"hi":0.877},{"series":"Argotroban (1|uM)/Thrombin (50 nM)","t":1.87,"v":0.877,"lo":0.857,"hi":0.897},{"series":"Argotroban (1|uM)/Thrombin (50 nM)","t":2.08,"v":0.896,"lo":0.876,"hi":0.916},{"series":"Argotroban (1|uM)/Thrombin (50 nM)","t":2.29,"v":0.917,"lo":0.897,"hi":0.937},{"series":"Argotroban (1|uM)/Thrombin (50 nM)","t":2.5,"v":0.938,"lo":0.918,"hi":0.958},{"series":"Argotroban (1|uM)/Thrombin (50 nM)","t":2.71,"v":0.944,"lo":0.924,"hi":0.964},{"series":"Argotroban (1|uM)/Thrombin (50 nM)","t":2.92,"v":0.958,"lo":0.938,"hi":0.978},{"series":"Argotroban (1|uM)/Thrombin (50 nM)","t":3.12,"v":0.965,"lo":0.945,"hi":0.985},{"series":"Argotroban (1|uM)/Thrombin (50 nM)","t":3.33,"v":0.953,"lo":0.933,"hi":0.973},{"series":"Argotroban (1|uM)/Thrombin (50 nM)","t":3.54,"v":0.93,"lo":0.91,"hi":0.95},{"series":"Argotroban (1|uM)/Thrombin (50 nM)","t":3.75,"v":0.94,"lo":0.92,"hi":0.96},{"series":"Argotroban (1|uM)/Thrombin (50 nM)","t":3.96,"v":0.931,"lo":0.911,"hi":0.951},{"series":"Argotroban (1|uM)/Thrombin (50 nM)","t":4.17,"v":0.926,"lo":0.906,"hi":0.946},{"series":"Argotroban (1|uM)/Thrombin (50 nM)","t":4.37,"v":0.923,"lo":0.903,"hi":0.943},{"series":"Argotroban (1|uM)/Thrombin (50 nM)","t":4.58,"v":0.923,"lo":0.903,"hi":0.943},{"series":"Argotroban (1|uM)/Thrombin (50 nM)","t":4.79,"v":0.917,"lo":0.897,"hi":0.937},{"series":"Argotroban (1|uM)/Thrombin (50 nM)","t":5.0,"v":0.912,"lo":0.892,"hi":0.932}
  ],
  "annA": [{"x": 0.53, "y": 1.235, "y2": 1.103, "tx": 0.48, "ty": 1.306, "label": "Thrombin"}],
  "annB": [{"x": 1.4, "y": 1.302, "y2": 1.126, "tx": 2.16, "ty": 1.409, "label": "plasma|Thrombin|AT3|Argotroban"}],
  "annC": [{"x": 0.306, "y": 1.459, "y2": 1.258, "tx": 0.46, "ty": 1.545, "label": "Thrombin (50 nM)|AT3 (25 nM)|Argotroban (1 uM)"}]
},
"vconcat": [
  {
    "title": {"text": "A", "dx": -65, "dy": 22},
    "width": 356, "height": 237,
    "layer": [
      {"data": {"name": "A"}, "mark": {"type": "line", "strokeWidth": 2.5},
       "encoding": {
         "x": {"field": "t", "type": "quantitative", "title": null, "scale": {"domain": [0, 4], "nice": false}, "axis": {"values": [0, 1, 2, 3, 4], "format": "d", "labelOverlap": false, "tickCount": 10}},
         "y": {"field": "v", "type": "quantitative", "title": "normalized TER", "scale": {"domain": [0.3, 1.2], "nice": false, "zero": false}, "axis": {"values": [0.4, 0.6, 0.8, 1.0, 1.2], "format": ".1f", "labelOverlap": false, "tickCount": 10}},
         "color": {"field": "series", "type": "nominal", "sort": null,
           "scale": {"domain": ["control", "10 nM Thrombin", "25 nM Thrombin", "50 nM Thrombin", "100 nM Thrombin"], "range": ["#000000", "#f41c5c", "#17877f", "#3b0c8a", "#a66dff"]},
           "legend": {"orient": "none", "legendX": 364, "legendY": 51, "title": null, "labelFontSize": 19.5, "symbolSize": 324, "rowPadding": 7, "labelOffset": 10, "symbolDash": [], "symbolStrokeWidth": 3}}
       }},
      {"data": {"name": "annA"}, "mark": {"type": "rule", "strokeWidth": 1.3, "color": "#000"},
       "encoding": {"x": {"field": "x", "type": "quantitative", "title": null, "scale": {"domain": [0, 4], "nice": false}}, "y": {"field": "y", "type": "quantitative", "title": "normalized TER", "scale": {"domain": [0.3, 1.2], "nice": false, "zero": false}}, "y2": {"field": "y2"}}},
      {"data": {"name": "annA"}, "mark": {"type": "point", "shape": "M0,0L-0.5,-1.5L0.5,-1.5Z", "filled": true, "color": "#000", "size": 144, "opacity": 1},
       "encoding": {"x": {"field": "x", "type": "quantitative", "title": null, "scale": {"domain": [0, 4], "nice": false}}, "y": {"field": "y2", "type": "quantitative", "title": "normalized TER", "scale": {"domain": [0.3, 1.2], "nice": false, "zero": false}}}},
      {"data": {"name": "annA"}, "mark": {"type": "text", "align": "left", "baseline": "top", "fontSize": 18.5, "lineBreak": "|", "lineHeight": 22, "color": "#000", "font": "Liberation Sans"},
       "encoding": {"x": {"field": "tx", "type": "quantitative", "title": null, "scale": {"domain": [0, 4], "nice": false}}, "y": {"field": "ty", "type": "quantitative", "title": "normalized TER", "scale": {"domain": [0.3, 1.2], "nice": false, "zero": false}}, "text": {"field": "label"}}}
    ]
  },
  {
    "title": {"text": "B", "dx": -65, "dy": 22},
    "width": 376, "height": 250.6,
    "resolve": {"scale": {"color": "independent"}, "legend": {"color": "independent"}},
    "layer": [
      {"data": {"name": "B"}, "transform": [{"fold": ["lo", "hi"], "as": ["bound", "val"]}],
       "mark": {"type": "line", "strokeWidth": 1.3, "strokeDash": [1.5, 2]},
       "encoding": {
         "x": {"field": "t", "type": "quantitative", "title": "Time (hrs)", "scale": {"domain": [0, 20], "nice": false}, "axis": {"values": [0, 5, 10, 15, 20], "format": "d", "labelOverlap": false, "tickCount": 10}},
         "y": {"field": "val", "type": "quantitative", "title": "normalized TER", "scale": {"domain": [0.3, 1.2], "nice": false, "zero": false}, "axis": {"values": [0.4, 0.6, 0.8, 1.0, 1.2], "format": ".1f", "labelOverlap": false, "tickCount": 10}},
         "detail": {"field": "bound"},
         "color": {"field": "series", "type": "nominal", "sort": null, "legend": null,
           "scale": {"domain": ["normal plasma", "Thrombin (50 nM)", "SARS-CoV-2 005", "SARS-CoV-2 005_|AT3 (25 nM)", "SARS-CoV-2 005/|Argotroban (1 uM)"], "range": ["#9a9a9a", "#ff9090", "#9090ff", "#9cc8bd", "#e49af5"]}}
       }},
      {"data": {"name": "B"}, "mark": {"type": "line", "strokeWidth": 2.5},
       "encoding": {
         "x": {"field": "t", "type": "quantitative", "title": "Time (hrs)", "scale": {"domain": [0, 20], "nice": false}, "axis": {"values": [0, 5, 10, 15, 20], "format": "d", "labelOverlap": false, "tickCount": 10}},
         "y": {"field": "v", "type": "quantitative", "title": "normalized TER", "scale": {"domain": [0.3, 1.2], "nice": false, "zero": false}, "axis": {"values": [0.4, 0.6, 0.8, 1.0, 1.2], "format": ".1f", "labelOverlap": false, "tickCount": 10}},
         "color": {"field": "series", "type": "nominal", "sort": null,
           "scale": {"domain": ["normal plasma", "Thrombin (50 nM)", "SARS-CoV-2 005", "SARS-CoV-2 005_|AT3 (25 nM)", "SARS-CoV-2 005/|Argotroban (1 uM)"], "range": ["#000000", "#ff1c1c", "#1c1cff", "#3d8a7e", "#b021e3"]},
           "legend": {"orient": "none", "legendX": 394, "legendY": 11, "title": null, "labelFontSize": 18, "symbolSize": 324, "rowPadding": 9, "labelOffset": 12, "symbolDash": [], "symbolStrokeWidth": 3, "labelExpr": "split(datum.label, '|')"}}
       }},
      {"data": {"name": "annB"}, "mark": {"type": "rule", "strokeWidth": 1.3, "color": "#000"},
       "encoding": {"x": {"field": "x", "type": "quantitative", "title": "Time (hrs)", "scale": {"domain": [0, 20], "nice": false}}, "y": {"field": "y", "type": "quantitative", "title": "normalized TER", "scale": {"domain": [0.3, 1.2], "nice": false, "zero": false}}, "y2": {"field": "y2"}}},
      {"data": {"name": "annB"}, "mark": {"type": "point", "shape": "M0,0L-0.5,-1.5L0.5,-1.5Z", "filled": true, "color": "#000", "size": 289, "opacity": 1},
       "encoding": {"x": {"field": "x", "type": "quantitative", "title": "Time (hrs)", "scale": {"domain": [0, 20], "nice": false}}, "y": {"field": "y2", "type": "quantitative", "title": "normalized TER", "scale": {"domain": [0.3, 1.2], "nice": false, "zero": false}}}},
      {"data": {"name": "annB"}, "mark": {"type": "text", "align": "left", "baseline": "top", "fontSize": 18.5, "lineBreak": "|", "lineHeight": 22, "color": "#000", "font": "Liberation Sans"},
       "encoding": {"x": {"field": "tx", "type": "quantitative", "title": "Time (hrs)", "scale": {"domain": [0, 20], "nice": false}}, "y": {"field": "ty", "type": "quantitative", "title": "normalized TER", "scale": {"domain": [0.3, 1.2], "nice": false, "zero": false}}, "text": {"field": "label"}}}
    ]
  },
  {
    "title": {"text": "C", "dx": -65, "dy": -4},
    "width": 343, "height": 227.7,
    "resolve": {"scale": {"color": "independent"}, "legend": {"color": "independent"}},
    "layer": [
      {"data": {"name": "C"}, "transform": [{"fold": ["lo", "hi"], "as": ["bound", "val"]}],
       "mark": {"type": "line", "strokeWidth": 1.3, "strokeDash": [1.5, 2]},
       "encoding": {
         "x": {"field": "t", "type": "quantitative", "title": "Time (hrs)", "scale": {"domain": [0, 5], "nice": false}, "axis": {"values": [0, 1, 2, 3, 4, 5], "format": "d", "labelOverlap": false, "tickCount": 10}},
         "y": {"field": "val", "type": "quantitative", "title": "normalized TER", "scale": {"domain": [0.2, 1.4], "nice": false, "zero": false}, "axis": {"values": [0.2, 0.4, 0.6, 0.8, 1.0, 1.2, 1.4], "format": ".1f", "labelOverlap": false, "tickCount": 10}},
         "detail": {"field": "bound"},
         "color": {"field": "series", "type": "nominal", "sort": null, "legend": null,
           "scale": {"domain": ["control", "Thrombin (50 nM)", "AT3 (25 nM)/ Thrombin (50 nM)", "Argotroban (1|uM)/Thrombin (50 nM)"], "range": ["#a0a0a0", "#ff9ab8", "#86ccc4", "#b08ee0"]}}
       }},
      {"data": {"name": "C"}, "mark": {"type": "line", "strokeWidth": 3.5},
       "encoding": {
         "x": {"field": "t", "type": "quantitative", "title": "Time (hrs)", "scale": {"domain": [0, 5], "nice": false}, "axis": {"values": [0, 1, 2, 3, 4, 5], "format": "d", "labelOverlap": false, "tickCount": 10}},
         "y": {"field": "v", "type": "quantitative", "title": "normalized TER", "scale": {"domain": [0.2, 1.4], "nice": false, "zero": false}, "axis": {"values": [0.2, 0.4, 0.6, 0.8, 1.0, 1.2, 1.4], "format": ".1f", "labelOverlap": false, "tickCount": 10}},
         "color": {"field": "series", "type": "nominal", "sort": null,
           "scale": {"domain": ["control", "Thrombin (50 nM)", "AT3 (25 nM)/ Thrombin (50 nM)", "Argotroban (1|uM)/Thrombin (50 nM)"], "range": ["#000000", "#ff1464", "#138a80", "#3c108c"]},
           "legend": {"orient": "none", "legendX": 370, "legendY": 91, "title": null, "labelFontSize": 19, "symbolSize": 400, "rowPadding": 6.5, "labelOffset": 10, "symbolDash": [], "symbolStrokeWidth": 3.5, "labelExpr": "split(datum.label, '|')"}}
       }},
      {"data": {"name": "annC"}, "mark": {"type": "rule", "strokeWidth": 1.3, "color": "#000"},
       "encoding": {"x": {"field": "x", "type": "quantitative", "title": "Time (hrs)", "scale": {"domain": [0, 5], "nice": false}}, "y": {"field": "y", "type": "quantitative", "title": "normalized TER", "scale": {"domain": [0.2, 1.4], "nice": false, "zero": false}}, "y2": {"field": "y2"}}},
      {"data": {"name": "annC"}, "mark": {"type": "point", "shape": "M0,0L-0.5,-1.5L0.5,-1.5Z", "filled": true, "color": "#000", "size": 121, "opacity": 1},
       "encoding": {"x": {"field": "x", "type": "quantitative", "title": "Time (hrs)", "scale": {"domain": [0, 5], "nice": false}}, "y": {"field": "y2", "type": "quantitative", "title": "normalized TER", "scale": {"domain": [0.2, 1.4], "nice": false, "zero": false}}}},
      {"data": {"name": "annC"}, "mark": {"type": "text", "align": "left", "baseline": "top", "fontSize": 19, "lineBreak": "|", "lineHeight": 22, "color": "#000", "font": "Liberation Sans"},
       "encoding": {"x": {"field": "tx", "type": "quantitative", "title": "Time (hrs)", "scale": {"domain": [0, 5], "nice": false}}, "y": {"field": "ty", "type": "quantitative", "title": "normalized TER", "scale": {"domain": [0.2, 1.4], "nice": false, "zero": false}}, "text": {"field": "label"}}}
    ]
  }
]
}
